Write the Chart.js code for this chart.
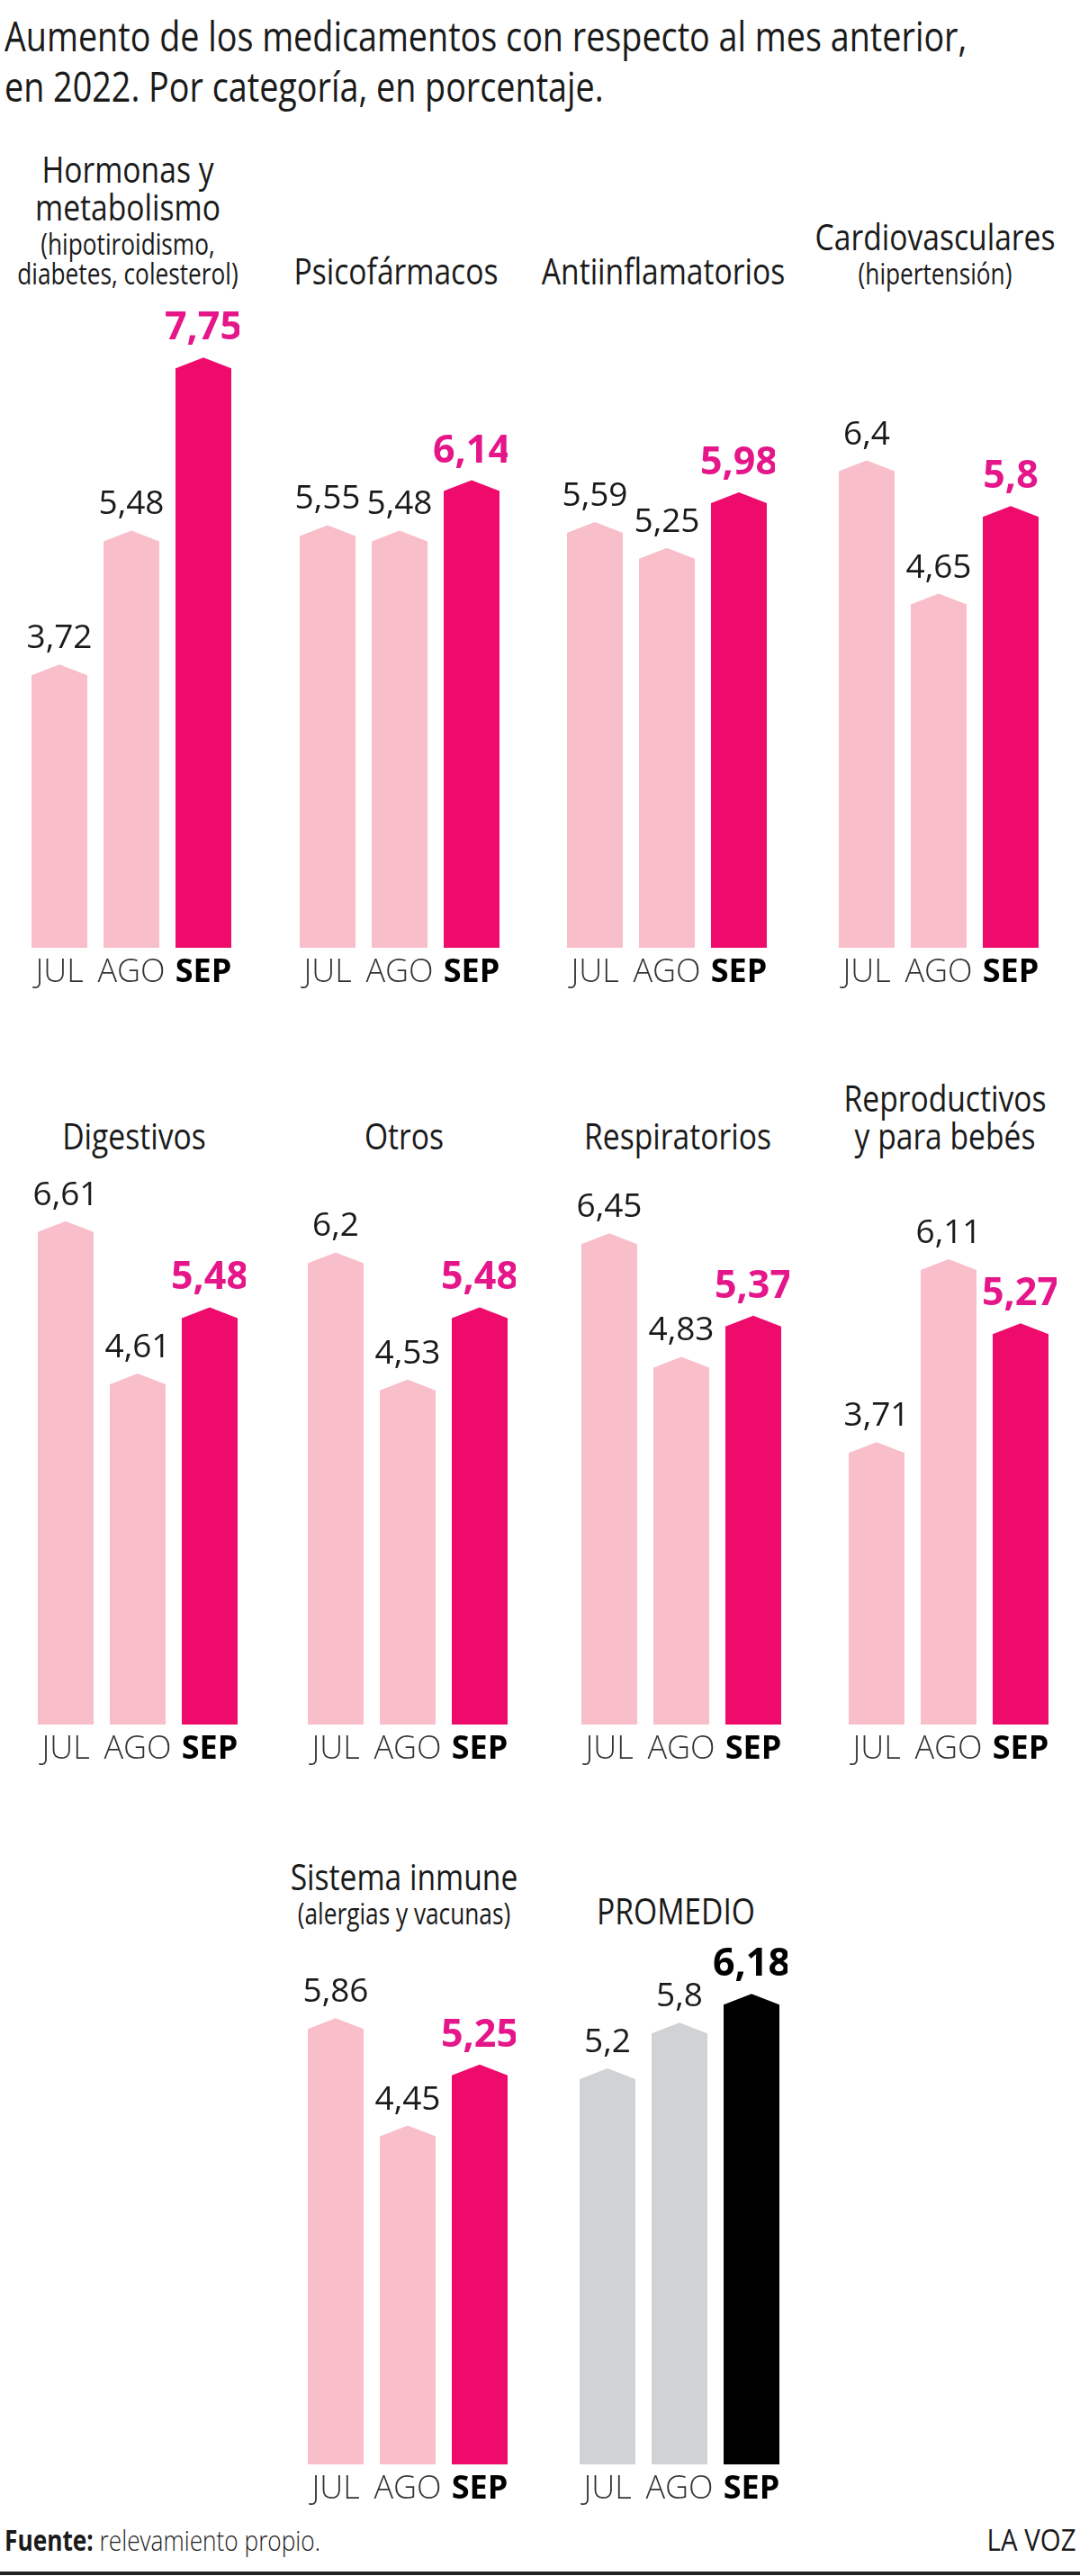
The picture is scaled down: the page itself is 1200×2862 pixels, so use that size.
<!DOCTYPE html>
<html>
<head>
<meta charset="utf-8">
<script src="https://cdn.jsdelivr.net/npm/chart.js@4.4.1/dist/chart.umd.min.js"></script>
<style>
  body { margin: 0; background: #fff; }
  #page { position: relative; width: 1200px; height: 2862px; overflow: hidden; font-family: "Open Sans", sans-serif; color: #1a1a1a; }
  .txt { position: absolute; white-space: nowrap; line-height: 1; }
  .cond { transform: scaleX(0.82); transform-origin: left top; }
  .ctr { width: 400px; text-align: center; transform: scaleX(0.82); transform-origin: center top; }
  canvas { position: absolute; }
  #rule { position: absolute; left: 0; top: 2857px; width: 1200px; height: 4px; background: #222; }
</style>
</head>
<body>
<div id="page">
  <div class="txt cond" style="left:5px;top:16px;font-size:46px;">Aumento de los medicamentos con respecto al mes anterior,</div>
  <div class="txt cond" style="left:5px;top:72px;font-size:46px;">en 2022. Por categoría, en porcentaje.</div>
  <div class="txt cond" style="left:5px;top:2806px;font-size:32px;"><b>Fuente:</b> <span style="font-weight:300">relevamiento propio.</span></div>
  <div class="txt" style="right:4px;top:2806px;font-size:32px;transform:scaleX(0.92);transform-origin:right top;">LA VOZ</div>
  <div id="rule"></div>
</div>
<script>
// datos
const months = ['JUL', 'AGO', 'SEP'];
const categories = ['Hormonas y metabolismo', 'Psicofármacos', 'Antiinflamatorios', 'Cardiovasculares',
  'Digestivos', 'Otros', 'Respiratorios', 'Reproductivos y para bebés', 'Sistema inmune', 'PROMEDIO'];
const julValues = [3.72, 5.55, 5.59, 6.4, 6.61, 6.2, 6.45, 3.71, 5.86, 5.2];
const agoValues = [5.48, 5.48, 5.25, 4.65, 4.61, 4.53, 4.83, 6.11, 4.45, 5.8];
const sepValues = [7.75, 6.14, 5.98, 5.8, 5.48, 5.48, 5.37, 5.27, 5.25, 6.18];

// titulos de cada panel (lineas grandes y aclaraciones en chico)
const titleLines = [['Hormonas y', 'metabolismo'], ['Psicofármacos'], ['Antiinflamatorios'], ['Cardiovasculares'],
  ['Digestivos'], ['Otros'], ['Respiratorios'], ['Reproductivos', 'y para bebés'], ['Sistema inmune'], ['PROMEDIO']];
const subLines = [['(hipotiroidismo,', 'diabetes, colesterol)'], [], [], ['(hipertensión)'],
  [], [], [], [], ['(alergias y vacunas)'], []];

// layout
const PX_PER_UNIT = 84.6;
const ROOF = 12;
const MAIN_SIZE = 41, SUB_SIZE = 32;
const rows = [
  { top: 330, base: 1053, lastBaseline: 316 },
  { top: 1290, base: 1916, lastBaseline: 1277 },
  { top: 2150, base: 2738, lastBaseline: 2138 }
];
const panelRow = [0, 0, 0, 0, 1, 1, 1, 1, 2, 2];
const panelLeft = [35, 333, 630, 932, 42, 342, 646, 943, 342, 644];

const LIGHT_PINK = '#f8bfcb', MAGENTA = '#ee0b6c', MAGENTA_TXT = '#e5168a', GREY = '#d1d2d4';

const pentagonBars = {
  id: 'pentagonBars',
  afterDatasetsDraw(chart) {
    const ctx = chart.ctx;
    const ds = chart.data.datasets[0];
    const meta = chart.getDatasetMeta(0);
    meta.data.forEach((bar, i) => {
      const { x, y, base, width } = bar.getProps(['x', 'y', 'base', 'width'], true);
      const h = width / 2;
      ctx.save();
      ctx.fillStyle = ds.fills[i];
      ctx.beginPath();
      ctx.moveTo(x - h, base);
      ctx.lineTo(x - h, y + ROOF);
      ctx.lineTo(x, y);
      ctx.lineTo(x + h, y + ROOF);
      ctx.lineTo(x + h, base);
      ctx.closePath();
      ctx.fill();

      const last = i === 2;
      ctx.textAlign = 'center';
      ctx.textBaseline = 'alphabetic';
      ctx.fillStyle = ds.labelColors[i];
      ctx.font = last ? 'bold 43px "Open Sans"' : '37px "Open Sans"';
      ctx.fillText(String(ds.data[i]).replace('.', ','), x, y - (last ? 20 : 18));

      ctx.fillStyle = last ? '#000' : '#333';
      ctx.font = last ? 'bold 36px "Open Sans"' : '300 36px "Open Sans"';
      ctx.fillText(chart.data.labels[i], x, base + 38);
      ctx.restore();
    });
  }
};

const page = document.getElementById('page');

categories.forEach((cat, p) => {
  const row = rows[panelRow[p]];
  const isAvg = cat === 'PROMEDIO';
  const left = panelLeft[p] - 9;
  const areaH = row.base - row.top;

  const canvas = document.createElement('canvas');
  canvas.width = 240;
  canvas.height = areaH + 50;
  canvas.style.left = left + 'px';
  canvas.style.top = row.top + 'px';
  page.appendChild(canvas);

  new Chart(canvas, {
    type: 'bar',
    data: {
      labels: months,
      datasets: [{
        data: [julValues[p], agoValues[p], sepValues[p]],
        backgroundColor: 'rgba(0,0,0,0)',
        fills: isAvg ? [GREY, GREY, '#000'] : [LIGHT_PINK, LIGHT_PINK, MAGENTA],
        labelColors: isAvg ? ['#1a1a1a', '#1a1a1a', '#000'] : ['#1a1a1a', '#1a1a1a', MAGENTA_TXT],
        categoryPercentage: 1,
        barPercentage: 0.775
      }]
    },
    options: {
      responsive: false,
      animation: false,
      layout: { padding: { top: 0, bottom: 50, left: 0, right: 0 } },
      scales: {
        x: { display: false },
        y: { display: false, min: 0, max: areaH / PX_PER_UNIT }
      },
      plugins: { legend: { display: false }, tooltip: { enabled: false } }
    },
    plugins: [pentagonBars]
  });

  // titulo del panel, alineado abajo
  const center = left + 120 - 4;
  const lines = titleLines[p].map(t => ({ t, sub: false })).concat(subLines[p].map(t => ({ t, sub: true })));
  let baseline = row.lastBaseline;
  for (let k = lines.length - 1; k >= 0; k--) {
    const size = lines[k].sub ? SUB_SIZE : MAIN_SIZE;
    const d = document.createElement('div');
    d.className = 'txt ctr';
    d.textContent = lines[k].t;
    d.style.fontSize = size + 'px';
    d.style.left = (center - 200) + 'px';
    d.style.top = Math.round(baseline - 0.888 * size) + 'px';
    page.appendChild(d);
    if (k > 0) {
      const above = lines[k - 1];
      baseline -= lines[k].sub ? (above.sub ? 33 : 38) : 42;
    }
  }
});
</script>
</body>
</html>
